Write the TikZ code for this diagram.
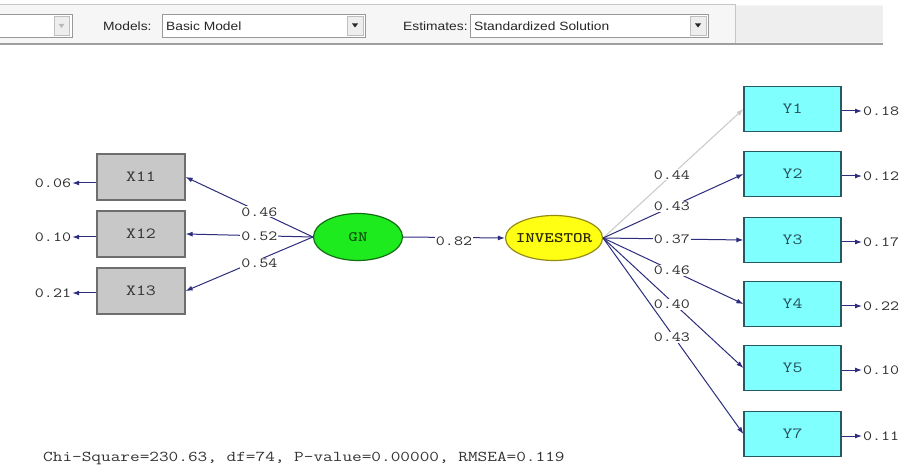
\documentclass[tikz,border=0pt]{standalone}
\usepackage{graphicx}
\usepackage{fontspec}
\setmainfont{Liberation Sans}
\usetikzlibrary{arrows.meta,shapes.geometric}
\definecolor{lc}{RGB}{45,45,125}
\definecolor{lcgray}{RGB}{200,200,200}
\definecolor{labc}{RGB}{45,45,45}
\definecolor{xfill}{RGB}{200,200,200}
\definecolor{xbord}{RGB}{110,110,110}
\definecolor{yfill}{RGB}{128,255,255}
\definecolor{ybord}{RGB}{40,90,100}
\definecolor{gfill}{RGB}{30,235,30}
\definecolor{gbord}{RGB}{20,110,20}
\definecolor{ifill}{RGB}{255,255,20}
\definecolor{ibord}{RGB}{150,140,20}
\definecolor{tbg}{RGB}{246,246,246}
\definecolor{tbr}{RGB}{238,238,238}
\newcommand{\hs}[1]{\scalebox{1.25}[1]{#1}}
\newcommand{\hst}[1]{\scalebox{1.15}[1]{#1}}
\begin{document}
\begin{tikzpicture}[x=1pt,y=-1pt,
  arr/.style={draw=lc, line width=1pt, -{Latex[length=7pt,width=5pt]}},
  arrg/.style={draw=lcgray, line width=1pt, -{Latex[length=7pt,width=5pt]}},
  lbl/.style={font=\ttfamily\fontsize{14}{14}\selectfont, text=labc, fill=white, inner sep=1pt},
  errl/.style={font=\ttfamily\fontsize{14}{14}\selectfont, text=labc, inner sep=1pt},
  xbox/.style={draw=xbord, fill=xfill, line width=1.2pt, minimum width=88pt, minimum height=46pt, inner sep=0pt, font=\ttfamily\fontsize{15.5}{15.5}\selectfont, text=black!80},
  ybox/.style={draw=ybord, fill=yfill, line width=1.2pt, minimum width=97pt, minimum height=45pt, inner sep=0pt, font=\ttfamily\fontsize{15.5}{15.5}\selectfont, text=ybord!90!black},
  lat/.style={ellipse, line width=1.2pt, inner sep=0pt, font=\ttfamily\bfseries\fontsize{14.5}{14.5}\selectfont},
  tbtext/.style={font=\fontsize{12}{12}\selectfont, text=black!85, inner sep=0pt},
  ddframe/.style={draw=gray!80, line width=0.8pt, fill=white},
  ddbtn/.style={draw=gray!50, line width=0.6pt, fill=tbr}
]
\useasboundingbox (0,0) rectangle (905,470);
\fill[white] (0,0) rectangle (905,470);

% toolbar
\fill[tbg] (0,5) rectangle (883,43);
\fill[tbr] (736,6) rectangle (883,42);
\draw[gray!45, line width=1pt] (0,5) -- (735,5) -- (735,43);
\draw[gray!75, line width=2pt] (0,44) -- (883,44);

\draw[ddframe] (-2,14) rectangle (72,37);
\draw[ddbtn] (54,16) rectangle (69,35);
\fill[gray!55] (58.5,24) -- (64.5,24) -- (61.5,28) -- cycle;

\node[tbtext, anchor=west] (models) at (103,26) {\hst{Models:}};
\draw[ddframe] (162,14) rectangle (365,37);
\node[tbtext, anchor=west] (basic) at (166,26) {\hst{Basic Model}};
\draw[ddbtn] (347,16) rectangle (363,35);
\fill[black!85] (352,23.5) -- (358,23.5) -- (355,27.5) -- cycle;

\node[tbtext, anchor=west] (estim) at (403,26) {\hst{Estimates:}};
\draw[ddframe] (470,14) rectangle (708,37);
\node[tbtext, anchor=west] (stsol) at (474,26) {\hst{Standardized Solution}};
\draw[ddbtn] (690,16) rectangle (706,35);
\fill[black!85] (695,23.5) -- (701,23.5) -- (698,27.5) -- cycle;

% observed X
\node[xbox] (x11) at (141,177) {\hs{X11}};
\node[xbox] (x12) at (141,234) {\hs{X12}};
\node[xbox] (x13) at (141,291) {\hs{X13}};

% latent
\node[lat, draw=gbord, fill=gfill, minimum width=89pt, minimum height=47pt, text=gbord!80!black] (gn) at (358,237) {\makebox[0pt]{\hs{GN}}};
\node[lat, draw=ibord, fill=ifill, minimum width=97pt, minimum height=45pt, text=black!70!ibord] (inv) at (554,238) {\makebox[0pt]{\hs{INVESTOR}}};

% observed Y
\node[ybox] (y1) at (792.5,109) {\hs{Y1}};
\node[ybox] (y2) at (792.5,174) {\hs{Y2}};
\node[ybox] (y3) at (792.5,240) {\hs{Y3}};
\node[ybox] (y4) at (792.5,304) {\hs{Y4}};
\node[ybox] (y5) at (792.5,368) {\hs{Y5}};
\node[ybox] (y7) at (792.5,434) {\hs{Y7}};

% error terms X
\node[errl] (e11) at (53,183) {\hs{0.06}};
\node[errl] (e12) at (53,237) {\hs{0.10}};
\node[errl] (e13) at (53,293) {\hs{0.21}};
\draw[arr] (x11.west |- e11) -- (e11.east);
\draw[arr] (x12.west |- e12) -- (e12.east);
\draw[arr] (x13.west |- e13) -- (e13.east);

% error terms Y
\node[errl, anchor=west] (f1) at (862,111) {\hs{0.18}};
\node[errl, anchor=west] (f2) at (862,176) {\hs{0.12}};
\node[errl, anchor=west] (f3) at (862,242) {\hs{0.17}};
\node[errl, anchor=west] (f4) at (862,306) {\hs{0.22}};
\node[errl, anchor=west] (f5) at (862,370) {\hs{0.10}};
\node[errl, anchor=west] (f7) at (862,436) {\hs{0.11}};
\draw[arr] (y1.east |- f1) -- (f1.west);
\draw[arr] (y2.east |- f2) -- (f2.west);
\draw[arr] (y3.east |- f3) -- (f3.west);
\draw[arr] (y4.east |- f4) -- (f4.west);
\draw[arr] (y5.east |- f5) -- (f5.west);
\draw[arr] (y7.east |- f7) -- (f7.west);

% GN -> X loadings
\draw[arr] (gn.west) -- node[lbl, pos=0.42] (l11) {\hs{0.46}} (x11.east);
\draw[arr] (gn.west) -- node[lbl, pos=0.42] (l12) {\hs{0.52}} (x12.east);
\draw[arr] (gn.west) -- node[lbl, pos=0.42, yshift=-4pt] (l13) {\hs{0.54}} (x13.east);

% GN -> INVESTOR
\draw[arr] (gn.east) -- node[lbl, pos=0.5, yshift=-4pt] (l82) {\hs{0.82}} (inv.west);

% INVESTOR -> Y loadings
\draw[arrg] (inv.east) -- node[lbl, pos=0.49] (m1) {\hs{0.44}} (y1.west);
\draw[arr] (inv.east) -- node[lbl, pos=0.49] (m2) {\hs{0.43}} (y2.west);
\draw[arr] (inv.east) -- node[lbl, pos=0.49] (m3) {\hs{0.37}} (y3.west);
\draw[arr] (inv.east) -- node[lbl, pos=0.49] (m4) {\hs{0.46}} (y4.west);
\draw[arr] (inv.east) -- node[lbl, pos=0.49, yshift=-3pt] (m5) {\hs{0.40}} (y5.west);
\draw[arr] (inv.east) -- node[lbl, pos=0.49, yshift=-3pt] (m7) {\hs{0.43}} (y7.west);

% fit statistics
\node[errl, anchor=west, font=\ttfamily\fontsize{15}{15}\selectfont, text=black!80] (fit) at (42,458) {\hs{Chi-Square=230.63, df=74, P-value=0.00000, RMSEA=0.119}};
\end{tikzpicture}
\end{document}
